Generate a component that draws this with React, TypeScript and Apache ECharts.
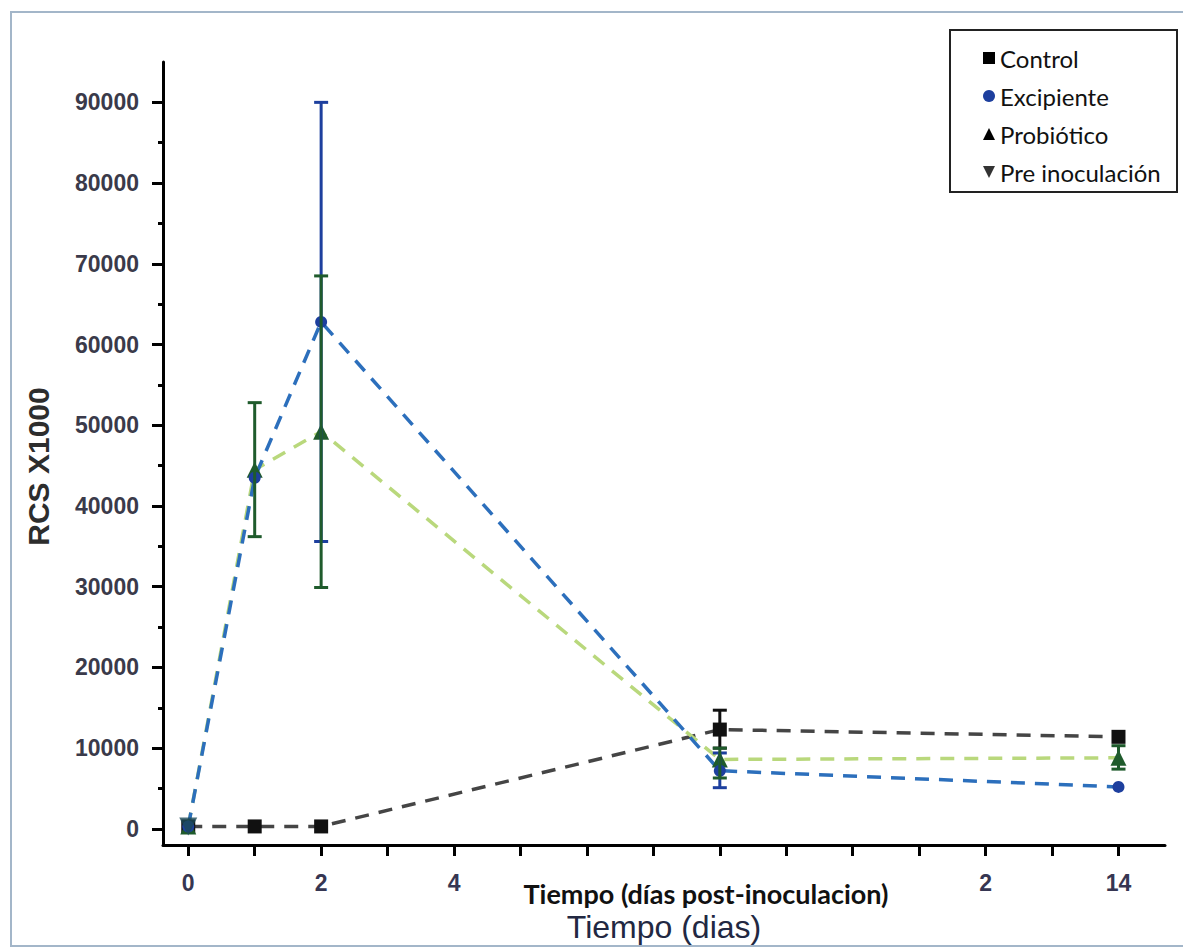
import React, { useEffect, useRef } from "react";
import * as echarts from "echarts";

// ---- data ----
const days = [0, 1, 2, 8, 14];
const control = [300, 300, 300, 12300, 11400];
const excipiente = [300, 43500, 62800, 7200, 5200];
const probiotico = [300, 44500, 49200, 8600, 8800];
const preInoculacion = [[0, 300]];

// error bars: [day, low, high]
const controlErr = [[8, 10000, 14700]];
const excipienteErr = [[2, 35600, 90000], [8, 5100, 9400]];
const probioticoErr = [[1, 36200, 52800], [2, 29900, 68500], [8, 6300, 10000], [14, 7400, 10300]];

const yMajorTicks = [0, 10000, 20000, 30000, 40000, 50000, 60000, 70000, 80000, 90000];
const yMinorTicks = [5000, 15000, 25000, 35000, 45000, 55000, 65000, 75000, 85000];
const xTicks = [0, 1, 2, 3, 4, 5, 6, 7, 8, 9, 10, 11, 12, 13, 14];
const xLabelValues = [0, 2, 4, 12, 14];
const xLabelTexts: Record<number, string> = { 0: "0", 2: "2", 4: "4", 12: "2", 14: "14" };

const C_CONTROL = "#111111";
const C_CONTROL_LINE = "#454545";
const C_EXC = "#1d3f9e";
const C_EXC_LINE = "#2c6fbc";
const C_PRO = "#1f5b2c";
const C_PRO_LINE = "#b9d87c";
const C_PRE = "#1d4a58";

function errorSeries(data: number[][], color: string) {
  return {
    type: "custom",
    silent: true,
    z: 3,
    data,
    encode: { x: 0, y: [1, 2] },
    renderItem: (params: any, api: any) => {
      const x = api.value(0);
      const lo = api.coord([x, api.value(1)]);
      const hi = api.coord([x, api.value(2)]);
      const w = 7;
      const st = { stroke: color, lineWidth: 3 };
      return {
        type: "group",
        children: [
          { type: "line", shape: { x1: lo[0], y1: lo[1], x2: hi[0], y2: hi[1] }, style: st },
          { type: "line", shape: { x1: lo[0] - w, y1: lo[1], x2: lo[0] + w, y2: lo[1] }, style: st },
          { type: "line", shape: { x1: hi[0] - w, y1: hi[1], x2: hi[0] + w, y2: hi[1] }, style: st },
        ],
      };
    },
  };
}

export default function App() {
  const ref = useRef<HTMLDivElement>(null);
  useEffect(() => {
    if (!ref.current) return;
    const chart = echarts.init(ref.current, null, { renderer: "svg" });
    const pair = (vals: number[]) => days.map((d, i) => [d, vals[i]]);
    const dash = { type: [14, 10] as any, width: 3.5 };
    chart.setOption({
      animation: false,
      backgroundColor: "#ffffff",
      grid: { left: 163, top: 62, width: 1002, height: 783, containLabel: false },
      legend: {
        left: 983,
        top: 46,
        orient: "vertical",
        itemWidth: 12,
        itemHeight: 12,
        itemGap: 14,
        padding: 0,
        selectedMode: false,
        textStyle: { fontFamily: "Lato", fontSize: 24, color: "#111", lineHeight: 24 },
        lineStyle: { opacity: 0 },
        data: [
          { name: "Control", icon: "rect", itemStyle: { color: "#000" } },
          { name: "Excipiente", icon: "circle", itemStyle: { color: C_EXC } },
          { name: "Probiótico", icon: "triangle", itemStyle: { color: "#000" } },
          { name: "Pre inoculación", icon: "path://M0,0L10,0L5,10Z", itemStyle: { color: "#000" } },
        ],
      },
      xAxis: {
        type: "value",
        min: -0.38,
        max: 14.7,
        name: "Tiempo (dias)",
        nameLocation: "middle",
        nameGap: 66,
        nameTextStyle: { fontFamily: "Liberation Sans", fontSize: 32, color: "#222842" },
        axisLine: { show: true, onZero: false, lineStyle: { color: "#000", width: 3 } },
        axisTick: { show: true, length: 11, customValues: xTicks, lineStyle: { color: "#000", width: 3 } },
        axisLabel: {
          customValues: xLabelValues,
          formatter: (v: number) => xLabelTexts[v] ?? "",
          margin: 26,
          fontFamily: "Liberation Sans",
          fontWeight: "bold",
          fontSize: 23,
          color: "#363652",
        },
        splitLine: { show: false },
      },
      yAxis: [
        {
          type: "value",
          min: -2000,
          max: 95000,
          position: "left",
          name: "RCS X1000",
          nameLocation: "middle",
          nameGap: 110,
          nameRotate: 90,
          nameTextStyle: {
            fontFamily: "Liberation Sans",
            fontWeight: "bold",
            fontSize: 30,
            color: "#2d2d2d",
            padding: [0, 26, 0, 0],
          },
          axisLine: { show: true, onZero: false, lineStyle: { color: "#000", width: 3 } },
          axisTick: { show: true, length: 11, customValues: yMajorTicks, lineStyle: { color: "#000", width: 3 } },
          axisLabel: {
            customValues: yMajorTicks,
            formatter: (v: number) => String(v),
            margin: 24,
            fontFamily: "Liberation Sans",
            fontWeight: "bold",
            fontSize: 23,
            color: "#3a3a4a",
          },
          splitLine: { show: false },
        },
        {
          type: "value",
          min: -2000,
          max: 95000,
          position: "left",
          axisLine: { show: false, onZero: false },
          axisTick: { show: true, length: 5, customValues: yMinorTicks, lineStyle: { color: "#000", width: 3 } },
          axisLabel: { show: false },
          splitLine: { show: false },
        },
      ],
      series: [
        {
          name: "Control",
          type: "line",
          data: pair(control),
          z: 2,
          symbol: "rect",
          symbolSize: 14,
          itemStyle: { color: C_CONTROL },
          lineStyle: { ...dash, color: C_CONTROL_LINE },
        },
        {
          name: "Probiótico",
          type: "line",
          data: pair(probiotico),
          z: 2,
          symbol: "triangle",
          symbolSize: 16,
          itemStyle: { color: C_PRO },
          lineStyle: { ...dash, color: C_PRO_LINE },
        },
        {
          name: "Excipiente",
          type: "line",
          data: pair(excipiente),
          z: 2,
          symbol: "circle",
          symbolSize: 12,
          itemStyle: { color: C_EXC },
          lineStyle: { ...dash, color: C_EXC_LINE },
        },
        errorSeries(controlErr, C_CONTROL),
        errorSeries(excipienteErr, C_EXC),
        errorSeries(probioticoErr, C_PRO),
        {
          name: "Pre inoculación",
          type: "scatter",
          data: preInoculacion,
          z: 4,
          symbol: "path://M0,0L10,0L5,10Z",
          symbolSize: 18,
          itemStyle: { color: C_PRE },
        },
      ],
      graphic: [
        {
          type: "rect",
          silent: true,
          shape: { x: 11, y: 12, width: 1200, height: 934 },
          style: { fill: "none", stroke: "#a3b6c9", lineWidth: 2 },
        },
        {
          type: "rect",
          silent: true,
          shape: { x: 950, y: 30, width: 227, height: 162 },
          style: { fill: "none", stroke: "#222", lineWidth: 2 },
        },
        {
          type: "text",
          silent: true,
          x: 706,
          y: 893,
          style: {
            text: "Tiempo (días post-inoculacion)",
            fontFamily: "Lato",
            fontWeight: "bold",
            fontSize: 27,
            fill: "#111",
            align: "center",
            verticalAlign: "middle",
          },
        },
      ],
    });
    return () => chart.dispose();
  }, []);
  return (
    <div
      ref={ref}
      style={{ position: "fixed", left: 0, top: 0, width: 1183, height: 951, background: "#fff" }}
    />
  );
}
